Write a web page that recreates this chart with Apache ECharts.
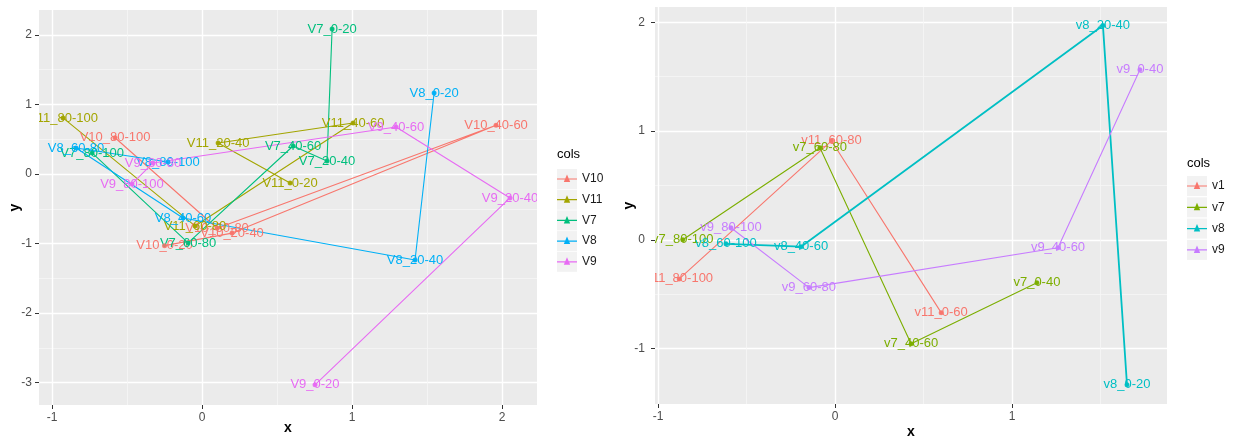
<!DOCTYPE html>
<html>
<head>
<meta charset="utf-8">
<script src="https://cdn.jsdelivr.net/npm/echarts@6/dist/echarts.min.js"></script>
<style>
  html, body { margin: 0; padding: 0; background: #ffffff; }
  #chart { width: 1233px; height: 436px; }
</style>
</head>
<body>
<div id="chart"></div>
<script>
// ---- Left panel: groups V10, V11, V7, V8, V9 ----
const LEFT_GROUPS = ['V10', 'V11', 'V7', 'V8', 'V9'];

const V10_LABELS = ['V10_0-20', 'V10_20-40', 'V10_40-60', 'V10_60-80', 'V10_80-100'];
const V10_X = [-0.25, 0.20, 1.96, 0.10, -0.58];
const V10_Y = [-1.03, -0.85, 0.70, -0.78, 0.52];

const V11_LABELS = ['V11_0-20', 'V11_20-40', 'V11_40-60', 'V11_60-80', 'V11_80-100'];
const V11_X = [0.587, 0.107, 1.007, -0.047, -0.927];
const V11_Y = [-0.13, 0.445, 0.733, -0.747, 0.805];

const V7_LABELS = ['V7_0-20', 'V7_20-40', 'V7_40-60', 'V7_60-80', 'V7_80-100'];
const V7_X = [0.867, 0.833, 0.607, -0.093, -0.733];
const V7_Y = [2.083, 0.187, 0.402, -0.991, 0.302];

const V8_LABELS = ['V8_0-20', 'V8_20-40', 'V8_40-60', 'V8_60-80', 'V8_80-100'];
const V8_X = [1.547, 1.42, -0.127, -0.84, -0.227];
const V8_Y = [1.164, -1.236, -0.632, 0.374, 0.172];

const V9_LABELS = ['V9_0-20', 'V9_20-40', 'V9_40-60', 'V9_60-80', 'V9_80-100'];
const V9_X = [0.753, 2.053, 1.293, -0.327, -0.467];
const V9_Y = [-3.03, -0.345, 0.675, 0.158, -0.144];

const LEFT_X_TICKS = [-1, 0, 1, 2];
const LEFT_Y_TICKS = [-3, -2, -1, 0, 1, 2];
const LEFT_X_MINOR = [-0.5, 0.5, 1.5];
const LEFT_Y_MINOR = [-2.5, -1.5, -0.5, 0.5, 1.5];

// ---- Right panel: groups v1, v7, v8, v9 ----
const RIGHT_GROUPS = ['v1', 'v7', 'v8', 'v9'];

const R1_LABELS = ['v11_0-60', 'v11_60-80', 'v11_80-100'];
const R1_X = [0.60, -0.02, -0.88];
const R1_Y = [-0.67, 0.91, -0.36];

const R7_LABELS = ['v7_0-40', 'v7_40-60', 'v7_60-80', 'v7_80-100'];
const R7_X = [1.141, 0.43, -0.085, -0.86];
const R7_Y = [-0.396, -0.957, 0.846, 0.0];

const R8_LABELS = ['v8_0-20', 'v8_20-40', 'v8_40-60', 'v8_60-100'];
const R8_X = [1.65, 1.514, -0.192, -0.616];
const R8_Y = [-1.334, 1.969, -0.064, -0.037];

const R9_LABELS = ['v9_0-40', 'v9_40-60', 'v9_60-80', 'v9_80-100'];
const R9_X = [1.723, 1.26, -0.147, -0.588];
const R9_Y = [1.564, -0.074, -0.44, 0.11];

const RIGHT_X_TICKS = [-1, 0, 1];
const RIGHT_Y_TICKS = [-1, 0, 1, 2];
const RIGHT_X_MINOR = [-0.5, 0.5, 1.5];
const RIGHT_Y_MINOR = [-0.5, 0.5, 1.5];

// ---- styling ----
const FONT = '"Liberation Sans", Arial, sans-serif';
const LEFT_COLORS = ['#F8766D', '#A3A500', '#00BF7D', '#00B0F6', '#E76BF3'];
const RIGHT_COLORS = ['#F8766D', '#7CAE00', '#00BFC4', '#C77CFF'];
const LEFT_RANGE_X = [-1.087, 2.233];
const LEFT_RANGE_Y = [-3.32, 2.356];
const RIGHT_RANGE_X = [-1.017, 1.876];
const RIGHT_RANGE_Y = [-1.51, 2.14];

// legend key: a line with a small glyph in the middle; the two tiny
// sub-paths at the top and bottom keep the icon box a full 20px tall
const KEY_ICON = 'path://M0,0L0.01,0L0.01,0.01Z M0,20L0.01,20L0.01,19.99Z ' +
  'M0,9.4L20,9.4L20,10.6L0,10.6Z M10,5.5L13.2,13L6.8,13Z';

function toData(labels, xs, ys) {
  return xs.map((x, i) => [x, ys[i], labels[i]]);
}

function groupSeries(name, labels, xs, ys, color, axisIndex, width) {
  const data = toData(labels, xs, ys);
  return [
    {
      type: 'line', name, data,
      xAxisIndex: axisIndex, yAxisIndex: axisIndex,
      z: 2,
      symbol: 'circle', symbolSize: 4, showSymbol: true,
      lineStyle: { color, width },
      itemStyle: { color },
      label: {
        show: true, position: 'inside',
        formatter: p => p.data[2],
        color, fontSize: 13, fontFamily: FONT
      },
      emphasis: { disabled: true },
      animation: false
    },
    {
      type: 'scatter', name, data,
      xAxisIndex: axisIndex, yAxisIndex: axisIndex,
      z: 3,
      symbol: 'circle', symbolSize: 5,
      itemStyle: { color },
      emphasis: { disabled: true },
      animation: false
    }
  ];
}

function primaryAxis(gridIndex, range, ticks, name, nameGap, labelMargin) {
  return {
    type: 'value', gridIndex, min: range[0], max: range[1], z: 60,
    axisLine: { show: false, onZero: false },
    axisTick: { show: true, length: 4, customValues: ticks, lineStyle: { color: '#333333', width: 1 } },
    axisLabel: { show: true, customValues: ticks, color: '#4D4D4D', fontSize: 12, fontFamily: FONT, margin: labelMargin },
    splitLine: { show: false },
    minorTick: { show: false }, minorSplitLine: { show: false },
    name, nameGap, nameLocation: 'middle', nameMoveOverlap: false,
    nameTextStyle: { color: '#000000', fontSize: 14, fontWeight: 'bold', fontFamily: FONT }
  };
}

function gridLineAxis(gridIndex, range, values, color, width) {
  return {
    type: 'value', gridIndex, min: range[0], max: range[1], z: 0,
    axisLine: { show: false, onZero: false },
    axisTick: { show: false, customValues: values },
    axisLabel: { show: false, customValues: values },
    splitLine: { show: true, lineStyle: { color, width } }
  };
}

const leftSets = [
  [V10_LABELS, V10_X, V10_Y], [V11_LABELS, V11_X, V11_Y], [V7_LABELS, V7_X, V7_Y],
  [V8_LABELS, V8_X, V8_Y], [V9_LABELS, V9_X, V9_Y]
];
const rightSets = [
  [R1_LABELS, R1_X, R1_Y], [R7_LABELS, R7_X, R7_Y], [R8_LABELS, R8_X, R8_Y], [R9_LABELS, R9_X, R9_Y]
];

const series = [];
LEFT_GROUPS.forEach((g, i) => {
  const s = leftSets[i];
  series.push(...groupSeries(g, s[0], s[1], s[2], LEFT_COLORS[i], 0, 1.1));
});
RIGHT_GROUPS.forEach((g, i) => {
  const s = rightSets[i];
  series.push(...groupSeries(g, s[0], s[1], s[2], RIGHT_COLORS[i], 3, g === 'v8' ? 1.8 : 1.1));
});

function legendPair(names, left, top, gap) {
  return [
    {
      data: names, left, top, orient: 'vertical', padding: 0,
      icon: 'rect', itemWidth: 20, itemHeight: 20, itemGap: gap,
      itemStyle: { color: '#F2F2F2' },
      formatter: () => '', textStyle: { fontSize: 1 },
      selectedMode: false, z: 5
    },
    {
      data: names, left, top, orient: 'vertical', padding: 0,
      icon: KEY_ICON, itemWidth: 20, itemHeight: 20, itemGap: gap,
      textStyle: { fontSize: 12, color: '#1A1A1A', fontFamily: FONT },
      selectedMode: false, z: 6
    }
  ];
}

const maskStyle = { fill: '#ffffff' };

const option = {
  backgroundColor: '#ffffff',
  animation: false,
  title: [
    { text: 'cols', left: 557, top: 148, padding: 0,
      textStyle: { fontSize: 13, fontWeight: 'normal', color: '#000000', fontFamily: FONT } },
    { text: 'cols', left: 1187, top: 157, padding: 0,
      textStyle: { fontSize: 13, fontWeight: 'normal', color: '#000000', fontFamily: FONT } }
  ],
  legend: [
    ...legendPair(LEFT_GROUPS, 557, 169, 0.7),
    ...legendPair(RIGHT_GROUPS, 1187, 176, 1.3)
  ],
  grid: [
    { left: 39, top: 10, width: 498, height: 395, show: true, backgroundColor: '#EBEBEB',
      borderWidth: 0, containLabel: false, outerBoundsMode: 'none' },
    { left: 655, top: 7, width: 512, height: 397, show: true, backgroundColor: '#EBEBEB',
      borderWidth: 0, containLabel: false, outerBoundsMode: 'none' }
  ],
  xAxis: [
    primaryAxis(0, LEFT_RANGE_X, LEFT_X_TICKS, 'x', 16, 7),
    gridLineAxis(0, LEFT_RANGE_X, LEFT_X_TICKS, '#FFFFFF', 1.4),
    gridLineAxis(0, LEFT_RANGE_X, LEFT_X_MINOR, '#F6F6F6', 0.8),
    primaryAxis(1, RIGHT_RANGE_X, RIGHT_X_TICKS, 'x', 21, 7),
    gridLineAxis(1, RIGHT_RANGE_X, RIGHT_X_TICKS, '#FFFFFF', 1.4),
    gridLineAxis(1, RIGHT_RANGE_X, RIGHT_X_MINOR, '#F6F6F6', 0.8)
  ],
  yAxis: [
    primaryAxis(0, LEFT_RANGE_Y, LEFT_Y_TICKS, 'y', 17, 7),
    gridLineAxis(0, LEFT_RANGE_Y, LEFT_Y_TICKS, '#FFFFFF', 1.4),
    gridLineAxis(0, LEFT_RANGE_Y, LEFT_Y_MINOR, '#F6F6F6', 0.8),
    primaryAxis(1, RIGHT_RANGE_Y, RIGHT_Y_TICKS, 'y', 19, 10),
    gridLineAxis(1, RIGHT_RANGE_Y, RIGHT_Y_TICKS, '#FFFFFF', 1.4),
    gridLineAxis(1, RIGHT_RANGE_Y, RIGHT_Y_MINOR, '#F6F6F6', 0.8)
  ],
  // white bands that clip text running past the panel edges
  graphic: [
    { type: 'rect', silent: true, z: 50, shape: { x: 0, y: 0, width: 39, height: 436 }, style: maskStyle },
    { type: 'rect', silent: true, z: 50, shape: { x: 537, y: 0, width: 10, height: 436 }, style: maskStyle },
    { type: 'rect', silent: true, z: 50, shape: { x: 605, y: 0, width: 50, height: 436 }, style: maskStyle },
    { type: 'rect', silent: true, z: 50, shape: { x: 1167, y: 0, width: 15, height: 436 }, style: maskStyle }
  ],
  series
};

const chart = echarts.init(document.getElementById('chart'), null, { renderer: 'canvas' });
chart.setOption(option);
</script>
</body>
</html>
